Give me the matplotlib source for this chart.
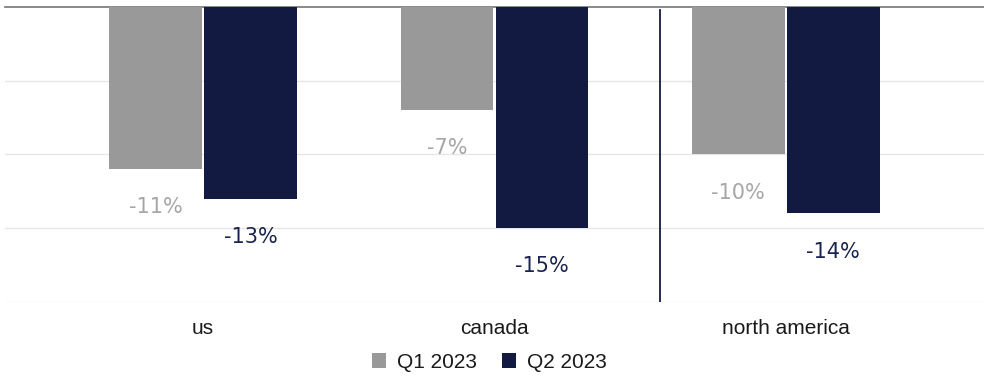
import matplotlib.pyplot as plt
import numpy as np

categories = ['us', 'canada', 'north america']
q1_2023 = [-11, -7, -10]
q2_2023 = [-13, -15, -14]
series_names = ['Q1 2023', 'Q2 2023']

bar_colors = ['#999999', '#121a42']
label_colors = ['#a6a6a6', '#1a2350']

fig = plt.figure(figsize=(9.84, 3.76), dpi=100)
ax = fig.add_axes([0.005, 0.197, 0.995, 0.785])

x = np.arange(len(categories))
width = 0.318
offsets = [-0.163, 0.163]

for i, vals in enumerate([q1_2023, q2_2023]):
    bars = ax.bar(x + offsets[i], vals, width, color=bar_colors[i], label=series_names[i], zorder=3)
    for b, v in zip(bars, vals):
        ax.annotate(f'{v}%', (b.get_x() + b.get_width() / 2, v), xytext=(0, -27.5),
                    textcoords='offset points', ha='center', va='center',
                    fontsize=15, color=label_colors[i], family='DejaVu Sans')

ax.set_xlim(-0.68, 2.68)
ax.set_ylim(-20, 0)
ax.set_yticks([-5, -10, -15, -20])
ax.yaxis.grid(True, color='#e6e6e6', linewidth=1, zorder=0)
ax.tick_params(axis='y', length=0, labelleft=False)
ax.tick_params(axis='x', length=0, pad=12)
ax.set_xticks(x)
ax.set_xticklabels(categories, fontsize=15, family='Liberation Sans', color='#1a1a1a')
for s in ['left', 'right', 'bottom']:
    ax.spines[s].set_visible(False)
ax.spines['top'].set_color('#808080')
ax.spines['top'].set_linewidth(1.3)

# divider between countries and region total
ax.axvline(1.567, ymin=0, ymax=0.99, color='#121a42', linewidth=1.3, zorder=4)

leg = fig.legend(loc='center', bbox_to_anchor=(0.497, 0.037), ncol=2, frameon=False,
                 handlelength=0.7, handleheight=0.7, handletextpad=0.5, columnspacing=1.2,
                 prop={'family': 'Liberation Sans', 'size': 15})
for t in leg.get_texts():
    t.set_color('#1a1a1a')

fig.savefig('out.png', dpi=100)
